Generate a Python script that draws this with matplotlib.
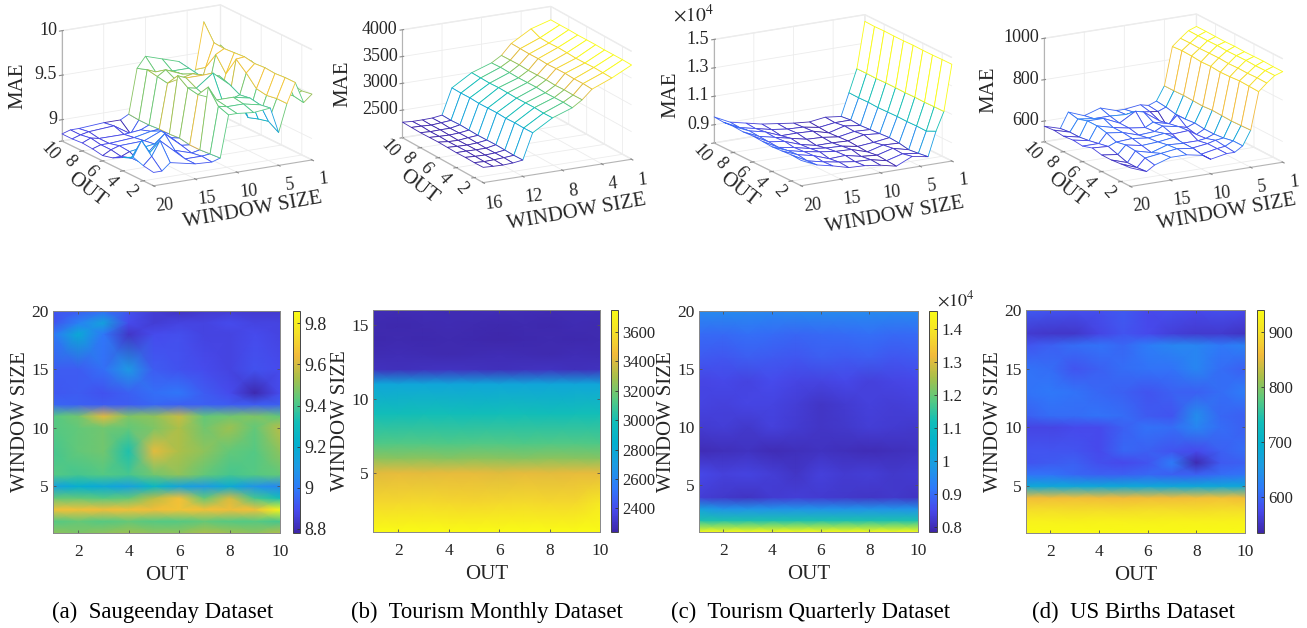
"""MAE vs OUT / WINDOW SIZE: mesh on top, interpolated map below, four datasets."""
import numpy as np
import matplotlib
matplotlib.use("Agg")
import matplotlib.pyplot as plt
from matplotlib.colors import LinearSegmentedColormap, Normalize

W, H = 1307, 628
plt.rcParams["font.family"] = ["Liberation Serif", "DejaVu Serif"]
plt.rcParams["mathtext.fontset"] = "stix"
plt.rcParams["grid.color"] = "#ececec"
plt.rcParams["grid.linewidth"] = 0.6
plt.rcParams["axes.edgecolor"] = "#b4b4b4"
plt.rcParams["xtick.color"] = "#8a8a8a"
plt.rcParams["ytick.color"] = "#8a8a8a"
TXT = "#262626"

# parula-like map
parula = LinearSegmentedColormap.from_list("parula", [
    (0.2422, 0.1504, 0.6603), (0.2780, 0.2900, 0.9300), (0.1800, 0.4800, 0.9800),
    (0.1100, 0.6100, 0.8900), (0.0100, 0.6900, 0.8100), (0.0700, 0.7450, 0.7200),
    (0.3500, 0.7900, 0.5000), (0.6600, 0.7500, 0.2900), (0.9500, 0.7300, 0.2300),
    (0.9600, 0.8800, 0.1600), (0.9769, 0.9839, 0.0805)])

out_vals = np.arange(1, 11)

# ---------- data: one row per window size, OUT = 1..10 ----------
win_a = [1, 2, 3, 4, 5, 6, 8, 10, 11, 12, 13, 15, 18, 19, 20]
mae_a = [
    [9.50, 9.48, 9.50, 9.52, 9.50, 9.50, 9.54, 9.52, 9.50, 9.55],
    [9.42, 9.44, 9.42, 9.44, 9.42, 9.42, 9.44, 9.42, 9.42, 9.40],
    [9.66, 9.66, 9.65, 9.66, 9.65, 9.67, 9.66, 9.65, 9.66, 9.84],
    [9.44, 9.44, 9.42, 9.44, 9.56, 9.66, 9.44, 9.60, 9.40, 9.32],
    [9.13, 9.20, 9.17, 9.13, 9.26, 9.14, 9.10, 9.18, 9.08, 9.04],
    [9.42, 9.40, 9.42, 9.40, 9.46, 9.50, 9.44, 9.40, 9.42, 9.44],
    [9.40, 9.44, 9.46, 9.34, 9.62, 9.54, 9.50, 9.44, 9.42, 9.50],
    [9.42, 9.44, 9.46, 9.44, 9.48, 9.54, 9.46, 9.52, 9.44, 9.56],
    [9.42, 9.46, 9.62, 9.48, 9.50, 9.58, 9.44, 9.46, 9.48, 9.44],
    [8.95, 8.94, 8.93, 8.93, 8.95, 8.94, 8.94, 8.93, 8.93, 8.94],
    [8.92, 8.93, 8.91, 8.94, 8.97, 8.99, 8.93, 8.89, 8.79, 8.89],
    [8.93, 8.93, 8.97, 9.10, 8.93, 8.91, 8.89, 8.87, 8.91, 8.89],
    [8.99, 9.18, 8.99, 8.83, 8.89, 8.90, 8.87, 8.87, 8.89, 8.87],
    [8.91, 9.02, 9.14, 8.89, 8.85, 8.87, 8.87, 8.89, 8.87, 8.87],
    [8.91, 8.93, 8.97, 8.91, 8.85, 8.82, 8.84, 8.85, 8.84, 8.84],
]

win_b = [1, 3, 5, 6, 7, 9, 11, 12, 13, 14, 15, 16]
mae_b = [
    [3745, 3750, 3748, 3745, 3750, 3748, 3745, 3750, 3748, 3750],
    [3560, 3565, 3570, 3560, 3555, 3565, 3570, 3560, 3565, 3640],
    [3410, 3420, 3415, 3425, 3420, 3410, 3420, 3415, 3420, 3425],
    [3240, 3235, 3240, 3230, 3240, 3235, 3230, 3240, 3235, 3230],
    [3120, 3130, 3125, 3120, 3130, 3125, 3120, 3125, 3130, 3120],
    [2990, 2985, 2995, 2990, 2985, 2990, 2995, 2985, 2990, 2995],
    [2770, 2765, 2770, 2760, 2770, 2765, 2760, 2770, 2765, 2770],
    [2290, 2285, 2290, 2295, 2290, 2285, 2290, 2295, 2285, 2290],
    [2265, 2270, 2265, 2260, 2265, 2270, 2265, 2260, 2270, 2265],
    [2255, 2260, 2255, 2260, 2255, 2250, 2255, 2260, 2255, 2260],
    [2260, 2255, 2260, 2265, 2260, 2255, 2260, 2255, 2265, 2260],
    [2270, 2265, 2270, 2265, 2270, 2275, 2270, 2265, 2270, 2275],
]

win_c = [1, 2, 3, 4, 6, 8, 10, 12, 14, 16, 18, 20]
mae_c = [
    [1.452, 1.452, 1.450, 1.450, 1.452, 1.450, 1.450, 1.452, 1.450, 1.453],
    [1.130, 1.130, 1.128, 1.130, 1.128, 1.130, 1.130, 1.128, 1.130, 1.130],
    [1.000, 0.968, 0.970, 0.968, 0.970, 0.968, 0.966, 0.970, 0.968, 0.970],
    [0.830, 0.820, 0.812, 0.825, 0.830, 0.825, 0.820, 0.815, 0.820, 0.812],
    [0.850, 0.835, 0.840, 0.830, 0.815, 0.835, 0.825, 0.830, 0.820, 0.825],
    [0.800, 0.805, 0.810, 0.800, 0.805, 0.810, 0.805, 0.800, 0.805, 0.810],
    [0.825, 0.830, 0.820, 0.835, 0.825, 0.815, 0.820, 0.830, 0.825, 0.820],
    [0.840, 0.835, 0.845, 0.840, 0.830, 0.815, 0.825, 0.835, 0.830, 0.835],
    [0.845, 0.850, 0.840, 0.855, 0.845, 0.840, 0.850, 0.835, 0.845, 0.850],
    [0.875, 0.870, 0.880, 0.875, 0.870, 0.880, 0.875, 0.880, 0.870, 0.875],
    [0.900, 0.895, 0.905, 0.900, 0.890, 0.895, 0.900, 0.905, 0.895, 0.900],
    [0.950, 0.955, 0.950, 0.945, 0.950, 0.955, 0.950, 0.955, 0.950, 0.955],
]

win_d = [1, 2, 3, 4, 5, 6, 7, 8, 10, 11, 13, 15, 17, 18, 20]
mae_d = [
    [938, 938, 940, 939, 938, 940, 938, 939, 940, 940],
    [925, 925, 924, 926, 925, 924, 926, 925, 925, 926],
    [895, 896, 894, 895, 893, 896, 895, 894, 896, 895],
    [860, 862, 864, 860, 858, 862, 860, 864, 866, 862],
    [680, 678, 676, 678, 680, 676, 678, 680, 678, 678],
    [610, 610, 600, 595, 595, 600, 595, 595, 605, 610],
    [585, 590, 595, 580, 575, 585, 620, 540, 590, 595],
    [585, 585, 585, 575, 600, 595, 585, 575, 595, 605],
    [570, 570, 575, 575, 595, 610, 605, 630, 605, 595],
    [595, 605, 605, 610, 605, 590, 585, 640, 600, 595],
    [610, 615, 610, 600, 595, 585, 595, 595, 605, 620],
    [610, 605, 585, 595, 605, 610, 610, 630, 605, 595],
    [585, 595, 605, 610, 600, 620, 630, 630, 615, 625],
    [560, 555, 555, 570, 585, 575, 565, 558, 558, 552],
    [590, 585, 580, 580, 590, 575, 580, 575, 580, 575],
]

captions = ["(a)  Saugeenday Dataset", "(b)  Tourism Monthly Dataset",
            "(c)  Tourism Quarterly Dataset", "(d)  US Births Dataset"]
cap_x = [163, 487, 811, 1134]

win_all = [win_a, win_b, win_c, win_d]
mae_all = [mae_a, mae_b, mae_c, mae_d]

z_lims = [(8.76, 10), (1985, 4000), (0.772, 1.5), (500, 1000)]
z_ticks = [[9, 9.5, 10], [2500, 3000, 3500, 4000], [0.9, 1.1, 1.3, 1.5], [600, 800, 1000]]
z_labels = [["9", "9.5", "10"], ["2500", "3000", "3500", "4000"],
            ["0.9", "1.1", "1.3", "1.5"], ["600", "800", "1000"]]
y3_ticks = [[1, 5, 10, 15, 20], [1, 4, 8, 12, 16], [1, 5, 10, 15, 20], [1, 5, 10, 15, 20]]
y_ticks = [[5, 10, 15, 20], [5, 10, 15], [5, 10, 15, 20], [5, 10, 15, 20]]
c_lims = [(8.78, 9.86), (2240, 3750), (0.785, 1.455), (535, 940)]
c_ticks = [[8.8, 9, 9.2, 9.4, 9.6, 9.8], [2400, 2600, 2800, 3000, 3200, 3400, 3600],
           [0.8, 0.9, 1, 1.1, 1.2, 1.3, 1.4], [600, 700, 800, 900]]
c_labels = [["8.8", "9", "9.2", "9.4", "9.6", "9.8"],
            ["2400", "2600", "2800", "3000", "3200", "3400", "3600"],
            ["0.8", "0.9", "1", "1.1", "1.2", "1.3", "1.4"], ["600", "700", "800", "900"]]
c_font = [13, 12, 12, 12]

# pixel layout: box corners left/right of the 3d base, px lengths, view angles
corner_l = [(62, 141), (402, 138), (714, 143), (1044, 142)]
corner_r = [(312, 160), (632, 159), (952, 161), (1283, 162)]
box_px = [(183, 183, 115), (172, 168, 113), (174, 174, 108), (178, 174, 108)]
views = [(16.4, 150), (17.2, 152), (16.5, 150), (16.7, 151)]
map_box = [(53, 311, 280, 533), (373, 310, 600, 532), (699, 311, 918, 532), (1026, 310, 1245, 533)]
bar_box = [(293, 311, 300, 533), (611, 310, 618, 532), (929, 311, 937, 532), (1257, 310, 1264, 533)]
mae_xy = [(18, 86), (343, 84), (671, 95), (989, 90)]
out_xy = [(87, 190), (419, 187), (739, 190), (1067, 190)]
win_xy = [(253, 210), (577, 212), (895, 215), (1227, 212)]


def rect(x0, y0, x1, y1):
    return [x0 / W, 1 - y1 / H, (x1 - x0) / W, (y1 - y0) / H]


def ftext(x, y, s, **kw):
    fig.text(x / W, 1 - y / H, s, ha="center", va="center", color=TXT, **kw)


fig = plt.figure(figsize=(W / 100, H / 100), dpi=100)

for i in range(4):
    win = np.array(win_all[i])
    Z = np.array(mae_all[i], dtype=float)
    X, Y = np.meshgrid(out_vals, win)
    norm = Normalize(Z.min(), Z.max())

    # ---------- mesh ----------
    lo, ro, lz = box_px[i]
    s = 0.9708 * np.sqrt(lo**2 + ro**2 + lz**2)
    cx = (corner_l[i][0] + corner_r[i][0]) / 2
    cy = (corner_l[i][1] + corner_r[i][1]) / 2 - lz * np.cos(np.radians(views[i][0])) / 2
    left = cx - 0.5135 * s
    bottom = cy + 0.5135 * s
    ax = fig.add_axes(rect(left, bottom - s, left + s, bottom), projection="3d",
                      proj_type="ortho")
    ax.patch.set_alpha(0)
    ax.set_box_aspect((lo, ro, lz))
    ax.view_init(elev=views[i][0], azim=views[i][1])
    surf = ax.plot_surface(X, Y, Z, rstride=1, cstride=1, color="white", shade=False,
                           linewidth=0.6)
    # each cell takes the colour of its low-window corner, as the mesh does
    surf.set_edgecolor(parula(norm(Z[:-1, :-1].ravel())))
    ax.set_xlim(1, 10)
    ax.set_ylim(1, win.max())
    ax.set_zlim(*z_lims[i])
    ax.set_xticks([2, 4, 6, 8, 10])
    ax.set_yticks(y3_ticks[i])
    ax.set_zticks(z_ticks[i])
    ax.set_zticklabels(z_labels[i])
    for a in (ax.xaxis, ax.yaxis, ax.zaxis):
        a.set_pane_color((1, 1, 1, 1))
        a.pane.set_edgecolor("#ececec")
    ax.tick_params(axis="x", labelsize=13, labelcolor=TXT, pad=0, labelrotation=-48)
    ax.tick_params(axis="y", labelsize=13, labelcolor=TXT, pad=5, labelrotation=6)
    ax.tick_params(axis="z", labelsize=13, labelcolor=TXT, pad=-6)
    for t in ax.get_xticklabels() + ax.get_yticklabels():
        t.set_va("center")
    for t in ax.get_zticklabels():
        t.set_va("center")
        t.set_ha("right")
    ax.zaxis.set_ticks_position("upper")

    ftext(*mae_xy[i], "MAE", fontsize=15, rotation=90)
    ftext(*out_xy[i], "OUT", fontsize=15, rotation=-38)
    ftext(*win_xy[i], "WINDOW SIZE", fontsize=15, rotation=10)

    # ---------- map ----------
    ax2 = fig.add_axes(rect(*map_box[i]))
    mesh = ax2.pcolormesh(X, Y, Z, cmap=parula, shading="gouraud",
                          vmin=c_lims[i][0], vmax=c_lims[i][1])
    ax2.set_xlim(1, 10)
    ax2.set_ylim(1, win.max())
    ax2.set_xticks([2, 4, 6, 8, 10])
    ax2.set_yticks(y_ticks[i])
    ax2.tick_params(direction="in", length=2.5, width=0.6, color="#555555",
                    labelcolor=TXT, labelsize=12.5, pad=8, top=True, right=True)
    ax2.tick_params(axis="y", pad=3)
    for sp in ax2.spines.values():
        sp.set_color("#888888")
        sp.set_linewidth(0.7)
    ax2.set_xlabel("OUT", fontsize=15, color=TXT, labelpad=4.5)
    ax2.set_ylabel("WINDOW SIZE", fontsize=15, color=TXT, labelpad=1)

    cax = fig.add_axes(rect(*bar_box[i]))
    cb = fig.colorbar(mesh, cax=cax)
    cb.set_ticks(c_ticks[i], labels=c_labels[i])
    cb.ax.tick_params(direction="in", length=2.5, width=0.6, color="#333333",
                      labelcolor=TXT, labelsize=c_font[i], pad=3)
    cb.outline.set_edgecolor("#444444")
    cb.outline.set_linewidth(0.7)

    fig.text(cap_x[i] / W, 1 - 612 / H, captions[i], ha="center", va="center",
             fontsize=16.4, color="black")

# multipliers
ftext(693, 15, r"$\times 10^4$", fontsize=14)
ftext(956, 300, r"$\times 10^4$", fontsize=13)

plt.savefig("out.png", dpi=100)
